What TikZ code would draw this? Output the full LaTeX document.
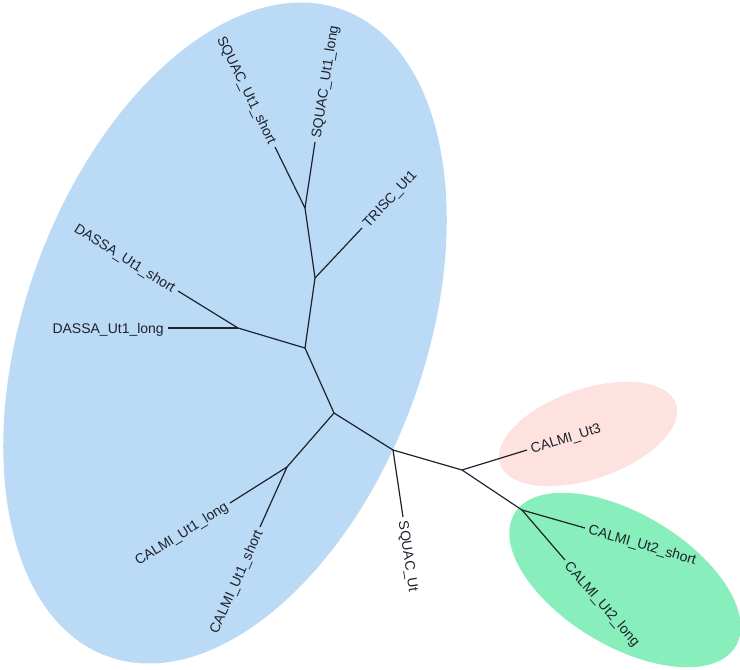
\documentclass[tikz,border=0pt]{standalone}
\usepackage{fontspec}
\setmainfont{Liberation Sans}
\usepackage{xcolor}
\usepackage{tikz}
\usetikzlibrary{positioning}

\definecolor{cladeblue}{RGB}{187,218,245}
\definecolor{cladepink}{RGB}{253,226,224}
\definecolor{cladegreen}{RGB}{136,239,188}
\definecolor{inkdark}{RGB}{30,34,44}

\begin{document}
\begin{tikzpicture}[
  x=1pt, y=-1pt,
  branch/.style={draw=inkdark, line width=1.2pt},
  tip/.style={inner sep=4pt, text=inkdark, text height=10pt, text depth=0pt, font=\fontsize{14}{16}\selectfont},
  tipw/.style={tip, anchor=west},
  tipe/.style={tip, anchor=east}
]
\useasboundingbox (0,0) rectangle (740,670);

\fill[cladeblue] (225,333) circle [x radius=200pt, y radius=344pt, rotate=-20];
\fill[cladepink] (588,434) circle [x radius=93pt, y radius=45pt, rotate=19];
\fill[cladegreen] (625,580) circle [x radius=129pt, y radius=66pt, rotate=-31];

\coordinate (hub) at (334,413);
\coordinate (upper) at (305,348);
\coordinate (trisjoin) at (315,278);
\coordinate (sqjoin) at (305,208);
\coordinate (dasjoin) at (238,328);
\coordinate (caljoin) at (287,467);
\coordinate (squtjoin) at (393,450);
\coordinate (outjoin) at (462,470);
\coordinate (ut2join) at (522,510);

\node[tipe, rotate=-64] (sqshort) at (275,147) {SQUAC\_Ut1\_short};
\node[tipw, rotate=81] (sqlong) at (315,142) {SQUAC\_Ut1\_long};
\node[tipw, rotate=47] (trisc) at (362,228) {TRISC\_Ut1};
\node[tipe, rotate=-32] (dasshort) at (178,291) {DASSA\_Ut1\_short};
\node[tipe] (daslong) at (168,328) {DASSA\_Ut1\_long};
\node[tipe, rotate=32] (callong) at (230,503) {CALMI\_Ut1\_long};
\node[tipe, rotate=66] (calshort) at (260,527) {CALMI\_Ut1\_short};
\node[tipw, rotate=-81.5] (squt) at (403,517) {SQUAC\_Ut};
\node[tipw, rotate=17] (ut3) at (527,450) {CALMI\_Ut3};
\node[tipw, rotate=-16] (ut2short) at (585,528) {CALMI\_Ut2\_short};
\node[tipw, rotate=-49] (ut2long) at (565,560) {CALMI\_Ut2\_long};

\draw[branch] (sqjoin) -- (sqshort.east);
\draw[branch] (sqjoin) -- (sqlong.west);
\draw[branch] (trisjoin) -- (sqjoin);
\draw[branch] (trisjoin) -- (trisc.west);
\draw[branch] (upper) -- (trisjoin);
\draw[branch] (dasjoin) -- (dasshort.east);
\draw[branch] (dasjoin) -- (daslong.east);
\draw[branch] (upper) -- (dasjoin);
\draw[branch] (hub) -- (upper);
\draw[branch] (hub) -- (caljoin);
\draw[branch] (caljoin) -- (callong.east);
\draw[branch] (caljoin) -- (calshort.east);
\draw[branch] (hub) -- (squtjoin);
\draw[branch] (squtjoin) -- (squt.west);
\draw[branch] (squtjoin) -- (outjoin);
\draw[branch] (outjoin) -- (ut3.west);
\draw[branch] (outjoin) -- (ut2join);
\draw[branch] (ut2join) -- (ut2short.west);
\draw[branch] (ut2join) -- (ut2long.west);
\end{tikzpicture}
\end{document}
